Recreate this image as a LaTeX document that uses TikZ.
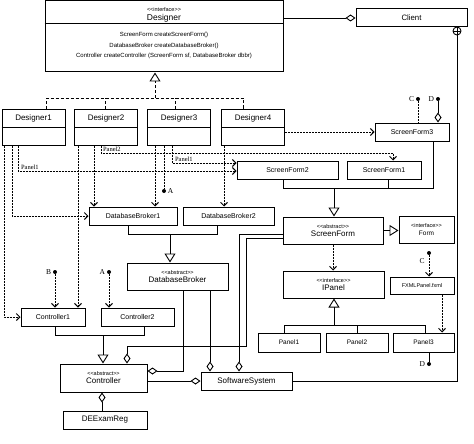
\documentclass[tikz,border=0pt]{standalone}
\usepackage{fontspec}
\setmainfont{Liberation Sans}[Ligatures=TeXOff]
\newfontfamily\lblfont{Liberation Serif}
\usetikzlibrary{arrows.meta}
\newcommand\myfs[1]{\fontsize{#1}{#1}\selectfont}
\begin{document}
\begin{tikzpicture}[x=1pt,y=-1pt,
  box/.style={draw, line width=1pt, inner sep=0pt, align=center, font=\myfs{7}},
  sz/.style 2 args={minimum width=#1pt, minimum height=#2pt},
  con/.style={line width=0.9pt},
  dsh/.style={line width=1pt, dash pattern=on 2pt off 1pt},
  dep/.style={dsh, -{Straight Barb[length=3.5pt,width=7pt,line width=1pt]}},
  rz/.style={line width=1pt, dash pattern=on 3pt off 2pt},
  gen/.style={con, -{Triangle[open,length=9pt,width=11pt,line width=0.9pt]}},
  agg/.style={con, -{Diamond[open,length=10pt,width=7pt,line width=0.9pt]}},
  dot/.style={circle, fill, inner sep=0pt, minimum size=4pt},
  lbl/.style={font=\lblfont\myfs{7.5}, inner sep=1.5pt},
  plbl/.style={font=\lblfont\myfs{6.5}, inner sep=0.5pt}
]
\useasboundingbox (0,0) rectangle (474,444);

% ---------- Designer interface ----------
\node[box, sz={238}{71}] (designer) at (164,36.5) {};
\node[font=\myfs{5.5}, inner sep=0] (dint) at (164,10) {<<interface>>};
\node[font=\myfs{8.5}, inner sep=0] (dname) at (164,18.5) {Designer};
\draw[con] ([yshift=-23pt]designer.north west) -- ([yshift=-23pt]designer.north east);
\node[font=\fontsize{6}{10.5}\selectfont, align=center, inner sep=0] (dmeth) at (164,45.5)
  {ScreenForm createScreenForm()\\DatabaseBroker createDatabaseBroker()\\Controller createController (ScreenForm sf, DatabaseBroker dbbr)};

\node[box, sz={111}{18}, font=\myfs{7.8}] (client) at (411.5,18) {Client};

% ---------- Designers ----------
\foreach \n/\x in {1/33.5,2/106,3/179,4/253}{
  \node[box, sz={63}{36}] (d\n) at (\x,127) {};
  \draw[con] (d\n.west) -- (d\n.east);
  \node[font=\myfs{8}, inner sep=0] (d\n t) at (\x,118) {Designer\n};
}

% ---------- Screen forms ----------
\node[box, sz={74}{18}] (sf3) at (412,132) {ScreenForm3};
\node[box, sz={101}{18}] (sf2) at (287.5,170) {ScreenForm2};
\node[box, sz={74}{18}] (sf1) at (384,170) {ScreenForm1};
\node[box, sz={100}{27}] (sf) at (333,230.5) {{\myfs{5.5}<<abstract>>}\\[1pt]{\myfs{8}ScreenForm}};
\node[box, sz={55}{27}] (form) at (426.5,229.5) {{\myfs{5.5}<interface>>}\\[1pt]{\myfs{6.5}Form}};
\node[box, sz={101}{27}] (ipanel) at (333.5,284.5) {{\myfs{5.5}<<interface>>}\\[1pt]{\myfs{8}IPanel}};
\node[box, sz={64}{17}, font=\myfs{5.5}] (fxml) at (422,285.5) {FXMLPanel.fxml};
\node[box, sz={62}{19}, font=\myfs{6.5}] (p1) at (289,342.5) {Panel1};
\node[box, sz={62}{19}, font=\myfs{6.5}] (p2) at (357,342.5) {Panel2};
\node[box, sz={61}{19}, font=\myfs{6.5}] (p3) at (423.5,342.5) {Panel3};

% ---------- Database brokers ----------
\node[box, sz={88}{18}] (db1) at (133,216) {DatabaseBroker1};
\node[box, sz={91}{18}] (db2) at (228.5,216) {DatabaseBroker2};
\node[box, sz={101}{27}] (db) at (177.5,276.5) {{\myfs{5.5}<<abstract>>}\\[1pt]{\myfs{8}DatabaseBroker}};

% ---------- Controllers ----------
\node[box, sz={64}{18}] (c1) at (53,317) {Controller1};
\node[box, sz={73}{18}] (c2) at (137.5,317) {Controller2};
\node[box, sz={87}{28}] (ctrl) at (103.5,378) {{\myfs{5.5}<<abstract>>}\\[1pt]{\myfs{8}Controller}};
\node[box, sz={84}{18}, font=\myfs{8}] (dee) at (105,420) {DEExamReg};
\node[box, sz={91}{18}, font=\myfs{8}] (ss) at (246.5,381) {SoftwareSystem};

% ---------- circle plus ----------
\node[draw, circle, minimum size=8pt, inner sep=0pt, line width=0.9pt,
  path picture={\draw[line width=0.8pt] (path picture bounding box.north) -- (path picture bounding box.south)
     (path picture bounding box.west) -- (path picture bounding box.east);}] (cp) at (457,31) {};

% ---------- pins ----------
\node[dot] (Cp) at (418,99) {};
\node[lbl, anchor=east] (Cl) at (Cp.west) {C};
\node[dot] (Dp) at (438,99) {};
\node[lbl, anchor=east] (Dl) at (Dp.west) {D};
\node[dot] (Cp2) at (429,253) {};
\node[lbl, anchor=north east] (Cl2) at ([xshift=-1pt,yshift=-2pt]Cp2.south west) {C};
\node[dot] (Dp2) at (429,364) {};
\node[lbl, anchor=east] (Dl2) at (Dp2.west) {D};
\node[dot] (Bp) at (55,272) {};
\node[lbl, anchor=east] (Bl) at (Bp.west) {B};
\node[dot] (Ap) at (109,272) {};
\node[lbl, anchor=east] (Al) at (Ap.west) {A};
\node[dot] (Ap2) at (164,191) {};
\node[lbl, anchor=west] (Al2) at (Ap2.east) {A};

% ---------- Designer realization ----------
\coordinate (busR) at (243,98);
\coordinate (busM) at (155,98);
\draw[rz] ([xshift=12.5pt]d1.north) |- (busR) -- ([xshift=-10pt]d4.north);
\draw[rz] ([xshift=-1pt]d2.north) -- ([xshift=-1pt]d2.north |- busR);
\draw[rz] ([xshift=-4pt]d3.north) -- ([xshift=-4pt]d3.north |- busR);
\draw[rz, -{Triangle[open,length=9pt,width=11pt,line width=0.9pt]}] (busM) -- (busM |- designer.south);

% Designer -- Client
\draw[agg] (designer.east |- client.west) -- (client.west);
% Client -- SoftwareSystem
\draw[con] (ss.east) -| (cp.south);

% Designer4 -> ScreenForm3
\draw[dep] (sf3.west -| d4.east) -- (sf3.west);
\draw[dsh] (Cp) -- (Cp |- sf3.north);
\draw[agg] (Dp) -- (Dp |- sf3.north);

% ScreenForm generalization
\coordinate (sfbus) at (334,188);
\draw[con] ([xshift=-4.5pt]sf2.south) |- ([xshift=21pt]sf3.south |- sfbus) -- ([xshift=21pt]sf3.south);
\draw[con] ([xshift=4pt]sf1.south) -- ([xshift=4pt]sf1.south |- sfbus);
\draw[gen] (sfbus) -- (sfbus |- sf.north);
\draw[gen] (sf.east) -- (form.west |- sf.east);
\draw[dep] (sf.south) -- (sf.south |- ipanel.north);
\draw[dep] (Cp2) -- (Cp2 |- fxml.north);
\draw[dep] ([xshift=20pt]fxml.south) -- ([xshift=20pt]fxml.south |- p3.north);

% IPanel generalization
\coordinate (pbus) at (334,325);
\draw[con] ([xshift=-5pt]p1.north) |- ([xshift=1.5pt]p3.north |- pbus) -- ([xshift=1.5pt]p3.north);
\draw[con] (p2.north) -- (p2.north |- pbus);
\draw[gen] (pbus) -- (pbus |- ipanel.south);
\draw[con] (Dp2 |- p3.south) -- (Dp2);

% DatabaseBroker generalization
\coordinate (dbbus) at (170,234);
\draw[con] ([xshift=-5pt]db1.south) |- ([xshift=-11.5pt]db2.south |- dbbus) -- ([xshift=-11.5pt]db2.south);
\draw[gen] (dbbus) -- (dbbus |- db.north);

% Controller generalization
\coordinate (cbus) at (103,335);
\draw[con] ([xshift=2pt]c1.south) |- ([xshift=6.5pt]c2.south |- cbus) -- ([xshift=6.5pt]c2.south);
\draw[gen] (cbus) -- (cbus |- ctrl.north);
\draw[agg] (dee.north -| 102,0) -- (ctrl.south -| 102,0);

% aggregations
\draw[agg] ([xshift=5.5pt]db.south) |- ([yshift=7pt]ctrl.east);
\draw[agg] ([xshift=32.5pt]db.south) -- ([xshift=32.5pt]db.south |- ss.north);
\draw[agg] ([yshift=-3.5pt]sf.west) -| ([xshift=-7.5pt]ss.north);
\coordinate (k1) at (246,346);
\draw[agg] ([yshift=-7.5pt]sf.west) -| (k1) -| ([xshift=23.5pt]ctrl.north);
\draw[agg] (ss.west -| ctrl.east) -- (ss.west);

% B, A pins to controllers
\draw[dep] (Bp) -- (Bp |- c1.north);
\draw[dep] (Ap) -- (Ap |- c2.north);

% Designer1 dependencies
\draw[dep] ([xshift=-29.5pt]d1.south) |- (c1.west);
\draw[dep] ([xshift=-21.5pt]d1.south) |- (db1.west);
\draw[dep] ([xshift=-15.5pt]d1.south) |- node[plbl, pos=0.5, anchor=south west, xshift=2pt] (lp1) {Panel1} ([yshift=-1pt]sf2.west);

% Designer2 dependencies
\draw[dep] ([xshift=-28pt]d2.south) -- ([xshift=-28pt]d2.south |- c1.north);
\draw[dep] ([xshift=-12pt]d2.south) -- ([xshift=-12pt]d2.south |- db1.north);
\coordinate (p2c) at (393,153);
\draw[dep] ([xshift=-5pt]d2.south) |- node[plbl, pos=0.5, anchor=south west, xshift=1pt] (lp2) {Panel2} (p2c) -- (p2c |- sf1.north);

% Designer3 dependencies
\draw[dep] ([xshift=-24pt]d3.south) -- ([xshift=-24pt]d3.south |- db1.north);
\draw[dsh] (Ap2 |- d3.south) -- (Ap2);
\draw[dep] ([xshift=-7pt]d3.south) |- node[plbl, pos=0.5, anchor=south west, xshift=2pt] (lp3) {Panel1} ([yshift=7pt]sf2.west);

% Designer4 dependency
\draw[dep] ([xshift=-29pt]d4.south) -- ([xshift=-29pt]d4.south |- db2.north);
\end{tikzpicture}
\end{document}
